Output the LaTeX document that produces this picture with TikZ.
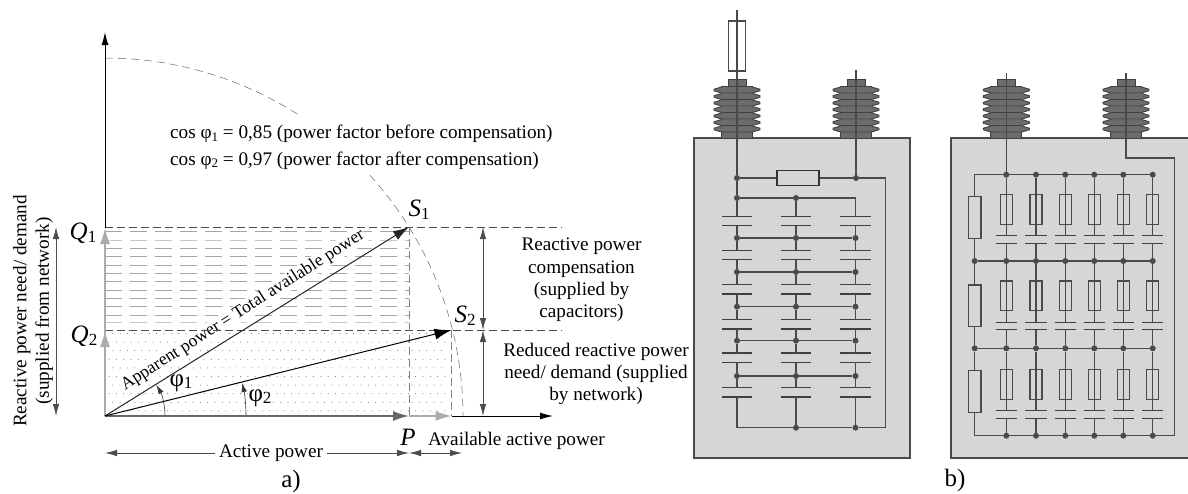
\documentclass[tikz,border=0pt]{standalone}
\usepackage{fontspec}
\setmainfont{Liberation Serif}
\usetikzlibrary{calc,arrows.meta}
\tikzset{>=latex}
\definecolor{casegray}{HTML}{D6D6D6}
\definecolor{wiregray}{HTML}{4A4A4A}
\definecolor{porcelain}{HTML}{6C6C6C}
\definecolor{vecgray}{HTML}{666666}
\definecolor{lightvec}{HTML}{ABABAB}
\newcommand{\symb}[2]{{\fontsize{25}{25}\selectfont\itshape #1}\raisebox{-3.5pt}{\fontsize{17}{17}\selectfont #2}}
\newcommand{\phis}[3]{{\fontsize{#3}{#3}\selectfont φ}\raisebox{-2.5pt}{\fontsize{#2}{#2}\selectfont #1}}
\tikzset{
  lbl/.style={font=\fontsize{19.2}{22.3}\selectfont, inner sep=0pt},
  biglbl/.style={font=\fontsize{25}{25}\selectfont, inner sep=0pt},
  wire/.style={draw=wiregray, line width=1.1pt},
  jdot/.style={circle, fill=wiregray, inner sep=0pt, minimum size=6pt},
  casing/.style={fill=casegray, draw=wiregray, line width=1.1pt},
  resbox/.style={rectangle, draw=wiregray, line width=1.1pt, inner sep=0pt},
  plate/.style={draw=black!75, line width=1.2pt},
  capa/.style 2 args={rectangle, inner sep=0pt, minimum width=#1, minimum height=#2,
    append after command={(\tikzlastnode.north west) edge[plate] (\tikzlastnode.north east)
      (\tikzlastnode.south west) edge[plate] (\tikzlastnode.south east)}},
  insul/.style={fill=porcelain, draw=black!75, line width=0.9pt},
  insulator/.pic={
    \draw[insul] (-9,-59) rectangle (9,-50);
    \draw[insul] (-15.5,-51.5) rectangle (15.5,0);
    \foreach \f in {-48,-41.5,-35,-28.5,-22,-15.5,-9}
      \draw[insul] (-15.5,\f-3) -- (-23,\f-0.8) -- (-23,\f+0.8) -- (-15.5,\f+3) -- (15.5,\f+3) -- (23,\f+0.8) -- (23,\f-0.8) -- (15.5,\f-3);
  },
  mainvec/.style={-{Latex[length=16pt,width=10pt]}, line width=1pt, draw=black!80, color=black!85},
  grayvec/.style={-{Latex[length=16pt,width=10pt]}, line width=1.6pt},
  axis/.style={-{Latex[length=13pt,width=7pt]}, line width=1pt, draw=black!70, color=black},
  dimline/.style={{Latex[length=12pt,width=6.5pt]}-{Latex[length=12pt,width=6.5pt]}, line width=0.8pt, draw=black!70, color=black!70},
  halfdim/.style={-{Latex[length=12pt,width=6.5pt]}, line width=0.8pt, draw=black!70, color=black!70},
  levelline/.style={draw=black!70, line width=0.8pt, dash pattern=on 8pt off 4pt},
  dropline/.style={draw=black!50, line width=0.8pt, dash pattern=on 8pt off 4pt},
  hatchline/.style={draw=black!35, line width=0.5pt, dash pattern=on 17pt off 8pt},
  circline/.style={draw=black!60, line width=0.5pt, dash pattern=on 8pt off 5pt},
  anglearc/.style={-{Latex[length=9pt,width=5.5pt]}, line width=0.6pt, draw=black!70, color=black!80},
}
\begin{document}
\begin{tikzpicture}[x=1pt,y=-1pt]
\useasboundingbox (0,0) rectangle (1188,493);
\coordinate (O) at (105,416);
\coordinate (Q1) at (105,228);
\coordinate (Q2) at (105,331);
\coordinate (S1) at (409,227);
\coordinate (S2) at (451.5,330);
\coordinate (P) at (409,416);
\coordinate (Pav) at (451.5,416);
\coordinate (yend) at (105,32);
\coordinate (xend) at (553,416);

% shading of the two areas
\foreach \y in {231.7,248,256.7,265,273,281.7,290,298,306.7,315}
  \draw[hatchline] (105,\y) -- (409,\y);
\foreach \y in {240,322.7}
  \draw[hatchline, draw=black!22] (105,\y) -- (409,\y);
\fill[black!60] \foreach \r in {0,...,9}{
  \foreach \c in {0,...,46}{
    ({105.5+\c*7.3+3.6*mod(\r,2)},{333.5+\r*8.6}) circle (0.5pt)
  }
};

\node[lbl, font=\fontsize{17.6}{20}\selectfont, fill=white, inner sep=1pt, rotate=32.5] (apparent) at (243,310.5) {Apparent power = Total available power};
\node[lbl, fill=white, inner sep=1pt] (phia) at (181,383) {\phis{1}{17}{25}};
\node[lbl, fill=white, inner sep=1pt] (phib) at (260,398) {\phis{2}{17}{25}};

% levels and drops
\draw[levelline] (105,227) -- (562,227);
\draw[levelline] (105,330) -- (562,330);
\draw[dropline] (S1) -- (P);
\draw[dropline] (S2) -- (Pav);

% quarter circle, y upwards
\begin{scope}[shift={(O)},y=1pt]
\draw[circline] (90:358) arc[start angle=90,end angle=57.5,radius=358];
\draw[circline] (42.3:358) arc[start angle=42.3,end angle=0,radius=358];
\draw[anglearc] (0:60) arc[start angle=0,end angle=31,radius=60];
\draw[anglearc] (0:141) arc[start angle=0,end angle=13.5,radius=141];
\end{scope}

% vectors
\draw[axis] (Q1) -- (yend);
\draw[axis] (Pav) -- (xend);
\draw[grayvec, draw=lightvec, color=lightvec] (O) -- (Q1);
\draw[grayvec, draw=lightvec, color=lightvec] (O) -- (Q2);
\draw[grayvec, draw=lightvec, color=lightvec] (P) -- (Pav);
\draw[grayvec, draw=vecgray, color=vecgray] (O) -- (P);
\draw[mainvec] (O) -- (S1);
\draw[mainvec, -{Latex[length=17pt,width=11pt]}, color=black] (O) -- (S2);

\node[lbl, anchor=base] (q1lbl) at (83,239) {\symb{Q}{1}};
\node[lbl, anchor=base] (q2lbl) at (84,342) {\symb{Q}{2}};
\node[lbl, anchor=base] (s1lbl) at (419,216) {\symb{S}{1}};
\node[lbl, anchor=base] (s2lbl) at (465,322) {\symb{S}{2}};

\node[lbl, anchor=base west] (cosa) at (170,138.5) {cos \phis{1}{13}{19.2} = 0,85 (power factor before compensation)};
\node[lbl, anchor=base west] (cosb) at (170,165) {cos \phis{2}{13}{19.2} = 0,97 (power factor after compensation)};

% dimension arrows
\coordinate (da) at (483,227);
\coordinate (db) at (483,330);
\coordinate (dc) at (483,416);
\draw[dimline] (da) -- (db);
\draw[dimline] (db) -- (dc);
\node[lbl, align=center] (compens) at (581.5,280) {Reactive power\\compensation\\(supplied by\\capacitors)};
\node[lbl, align=center] (reduced) at (596,374) {Reduced reactive power\\need/ demand (supplied\\by network)};
\coordinate (ra) at (56,227);
\coordinate (rb) at (56,416);
\draw[dimline] (ra) -- (rb);
\node[lbl, align=center, rotate=90] (need) at (33,311) {Reactive power need/ demand\\(supplied from network)};

\node[lbl, anchor=base, inner sep=4pt] (active) at (271,457) {Active power};
\coordinate (aleft) at (105,453);
\coordinate (aright) at (409,453);
\coordinate (avright) at (462,453);
\draw[halfdim] (active.west |- aleft) -- (aleft);
\draw[halfdim] (active.east |- aleft) -- (aright);
\draw[dimline] (aright) -- (avright);
\node[lbl, anchor=base] (plbl) at (408,445) {\fontsize{25}{25}\selectfont\itshape P};
\node[lbl, anchor=base west] (avail) at (428,445) {Available active power};
\node[biglbl, anchor=base] (alab) at (291,487) {a)};
\node[biglbl, anchor=base] (blab) at (955,486) {b)};

% ---- left capacitor
\node[casing, rectangle, inner sep=0pt, minimum width=216pt, minimum height=320pt] (casea) at (802,298) {};
\pic at (737,138) {insulator};
\pic at (856,138) {insulator};
\node[resbox, minimum width=17pt, minimum height=50pt, fill=white] (fuse) at (737,46) {};
\node[resbox, minimum width=42pt, minimum height=14.5pt, draw=black!80] (rdis) at (798,178) {};
\coordinate (leada) at (737,10);
\coordinate (leadb) at (856,70);
\node[jdot] (topa) at (737,178) {};
\node[jdot] (topb) at (856,178) {};
\draw[wire] (leada) -- (topa);
\draw[wire] (leadb) -- (topb);
\draw[wire] (topa) -- (rdis);
\draw[wire] (rdis) -- (topb);
\foreach \c/\x in {a/737,b/796,c/855.5}{
  \foreach \r/\y in {1/221,2/255,3/289.2,4/324.3,5/357.7,6/392.2}
    \node[capa={30pt}{9pt}] (cap\c\r) at (\x,\y) {};
  \foreach \r/\y in {1/238,2/272,3/306.7,4/340.7,5/376}
    \node[jdot] (dot\c\r) at (\x,\y) {};
}
\node[jdot] (busa) at (737,198) {};
\node[jdot] (busb) at (796,198) {};
\coordinate (busc) at (855.5,198);
\coordinate (bota) at (737,427.7);
\node[jdot] (botb) at (796,427.7) {};
\node[jdot] (botc) at (855.5,427.7) {};
\coordinate (retb) at (885.3,427.7);
\coordinate (rett) at (885.3,178);
\draw[wire] (topa) -- (busa);
\draw[wire] (busa) -- (busb) -- (busc);
\draw[wire] (topb) -- (rett) -- (retb) -- (botc) -- (botb) -- (bota);
\foreach \c/\t in {a/busa,b/busb,c/busc}
  \draw[wire] (\t) -- (cap\c1.north);
\foreach \c/\t in {a/bota,b/botb,c/botc}
  \draw[wire] (cap\c6.south) -- (\t);
\foreach \c in {a,b,c}
  \foreach \r/\s in {1/2,2/3,3/4,4/5,5/6}{
    \draw[wire] (cap\c\r.south) -- (dot\c\r);
    \draw[wire] (dot\c\r) -- (cap\c\s.north);
  }
\foreach \r in {1,...,5}
  \draw[wire] (dota\r) -- (dotb\r) -- (dotc\r);

% ---- right capacitor, open towards the page edge
\fill[casegray] (951,138) rectangle (1188,458);
\draw[wiregray, line width=1.1pt] (1188,138) -- (951,138) -- (951,458) -- (1188,458);
\pic at (1006.3,138) {insulator};
\pic at (1126,138) {insulator};
\foreach \c/\x in {1/1006.3,2/1036,3/1065.3,4/1094.3,5/1123.3,6/1152.7}{
  \foreach \r/\y/\fy/\cy in {1/174.7/209.5/239.5,2/261/295.8/326,3/348.3/384.2/414.35}{
    \node[jdot] (row\r n\c) at (\x,\y) {};
    \node[resbox, minimum width=12pt, minimum height=29.7pt] (fus\r n\c) at (\x,\fy) {};
    \node[capa={21pt}{7.3pt}] (cp\r n\c) at (\x,\cy) {};
  }
  \node[jdot] (row4n\c) at (\x,435.7) {};
}
\node[resbox, minimum width=12.5pt, minimum height=42.3pt] (rs1) at (974.7,217.2) {};
\node[resbox, minimum width=12.5pt, minimum height=41.7pt] (rs2) at (974.7,305.8) {};
\node[resbox, minimum width=12.5pt, minimum height=42pt] (rs3) at (974.7,391.3) {};
\node[jdot] (left2) at (974.7,261) {};
\node[jdot] (left3) at (974.7,348.3) {};
\coordinate (left1) at (974.7,174.7);
\coordinate (left4) at (974.7,435.7);
\coordinate (right4) at (1174.7,435.7);
\coordinate (right1) at (1174.7,158);
\coordinate (turn) at (1126,158);
\coordinate (leadc) at (1006.3,73);
\coordinate (leadd) at (1126,73);
\draw[wire] (leadc) -- (row1n1);
\draw[wire] (leadd) -- (turn) -- (right1) -- (right4) -- (left4) -- (rs3.south);
\draw[wire] (rs3.north) -- (left3) -- (rs2.south);
\draw[wire] (rs2.north) -- (left2) -- (rs1.south);
\draw[wire] (rs1.north) -- (left1) -- (row1n6);
\draw[wire] (left2) -- (row2n6);
\draw[wire] (left3) -- (row3n6);
\foreach \c in {1,...,6}
  \foreach \r/\s in {1/2,2/3,3/4}{
    \draw[wire] (row\r n\c) -- (cp\r n\c.north);
    \draw[wire] (cp\r n\c.south) -- (row\s n\c);
  }
\end{tikzpicture}
\end{document}
